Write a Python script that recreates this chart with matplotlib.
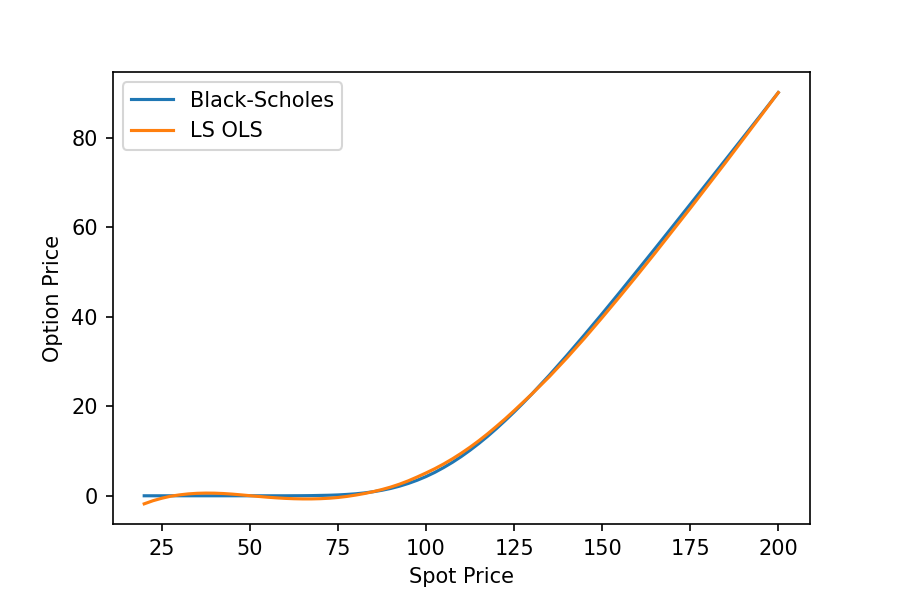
import matplotlib
matplotlib.use("Agg")
import matplotlib.pyplot as plt

# spot prices
spot = [20, 22.5, 25, 27.5, 30, 32.5, 35, 37.5, 40, 42.5, 45, 47.5, 50, 52.5,
        55, 57.5, 60, 62.5, 65, 67.5, 70, 72.5, 75, 77.5, 80, 82.5, 85, 87.5,
        90, 92.5, 95, 97.5, 100, 102.5, 105, 107.5, 110, 112.5, 115, 117.5,
        120, 122.5, 125, 127.5, 130, 135, 140, 145, 150, 155, 160, 165, 170,
        175, 180, 185, 190, 195, 200]

# Black-Scholes price
bs_price = [0.0, 0.0, 0.0, 0.0, 0.0, 0.0, 0.0, 0.0, 0.0, 0.0, 0.0, 0.0, 0.0,
            0.0, 0.0, 0.0, 0.0, 0.01, 0.02, 0.04, 0.08, 0.12, 0.19, 0.30,
            0.44, 0.64, 0.90, 1.23, 1.64, 2.15, 2.76, 3.47, 4.29, 5.23, 6.30,
            7.47, 8.76, 10.17, 11.68, 13.29, 15.01, 16.82, 18.70, 20.66,
            22.69, 26.93, 31.37, 35.96, 40.66, 45.46, 50.32, 55.21, 60.14,
            65.10, 70.06, 75.03, 80.02, 85.01, 90.05]

# Longstaff-Schwartz OLS fit
ls_price = [-1.8, -1.1, -0.55, -0.1, 0.2, 0.42, 0.55, 0.6, 0.58, 0.5, 0.37,
            0.2, 0.02, -0.15, -0.32, -0.46, -0.58, -0.66, -0.7, -0.7, -0.65,
            -0.55, -0.38, -0.15, 0.15, 0.5, 0.92, 1.4, 1.95, 2.6, 3.35, 4.2,
            5.1, 6.05, 7.1, 8.25, 9.5, 10.85, 12.3, 13.85, 15.5, 17.2, 19.0,
            20.85, 22.7, 26.6, 30.8, 35.2, 39.8, 44.5, 49.3, 54.2, 59.2, 64.2,
            69.3, 74.4, 79.6, 84.8, 90.05]

plt.figure(figsize=(6, 4), dpi=150)
plt.plot(spot, bs_price, label="Black-Scholes")
plt.plot(spot, ls_price, label="LS OLS")
plt.xlabel("Spot Price")
plt.ylabel("Option Price")
plt.legend(loc="upper left")
plt.subplots_adjust(bottom=0.126)
plt.savefig("out.png")
